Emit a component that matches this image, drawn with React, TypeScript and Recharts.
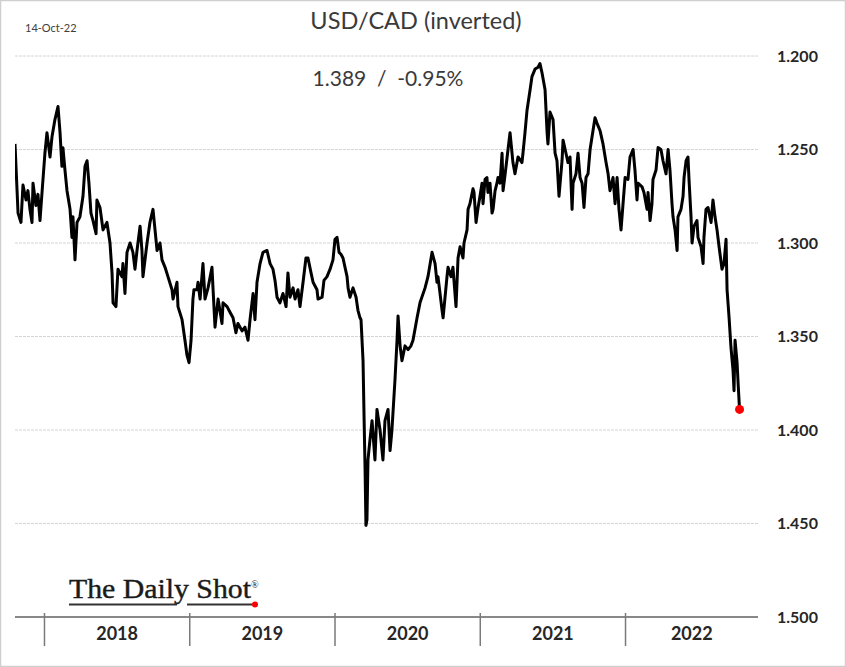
import React from 'react';
import { LineChart, Line, XAxis, YAxis, CartesianGrid, ReferenceDot } from 'recharts';

// Time as decimal years, USD/CAD rate
const dates = [
  2017.797, 2017.818, 2017.838, 2017.852, 2017.873, 2017.886, 2017.900, 2017.914, 2017.921, 2017.941, 2017.955, 2017.969, 2017.983,
  2018.003, 2018.017, 2018.038, 2018.052, 2018.072, 2018.093, 2018.107, 2018.120, 2018.127, 2018.141, 2018.155, 2018.176, 2018.189, 2018.196, 2018.210, 2018.224, 2018.244, 2018.265, 2018.279, 2018.293, 2018.306, 2018.320, 2018.334, 2018.355, 2018.361, 2018.382, 2018.403, 2018.430, 2018.451, 2018.465, 2018.472, 2018.492, 2018.506, 2018.534, 2018.540, 2018.554, 2018.568, 2018.589, 2018.609, 2018.623, 2018.637, 2018.658, 2018.671, 2018.678, 2018.706, 2018.726, 2018.747, 2018.761, 2018.775, 2018.795, 2018.809, 2018.830, 2018.850, 2018.878, 2018.885, 2018.912, 2018.919, 2018.947, 2018.967, 2018.981, 2018.995,
  2019.009, 2019.022, 2019.029, 2019.050, 2019.057, 2019.071, 2019.091, 2019.105, 2019.126, 2019.153, 2019.160, 2019.174, 2019.195, 2019.222, 2019.229, 2019.257, 2019.277, 2019.298, 2019.318, 2019.332, 2019.360, 2019.380, 2019.401, 2019.415, 2019.436, 2019.449, 2019.463, 2019.484, 2019.504, 2019.532, 2019.553, 2019.573, 2019.587, 2019.601, 2019.621, 2019.642, 2019.663, 2019.676, 2019.690, 2019.711, 2019.725, 2019.745, 2019.759, 2019.780, 2019.800, 2019.814, 2019.835, 2019.849, 2019.876, 2019.883, 2019.911, 2019.924, 2019.945, 2019.966, 2019.986,
  2020.000, 2020.014, 2020.028, 2020.041, 2020.055, 2020.069, 2020.083, 2020.090, 2020.103, 2020.124, 2020.145, 2020.158, 2020.172, 2020.179, 2020.193, 2020.200, 2020.207, 2020.213, 2020.220, 2020.227, 2020.241, 2020.255, 2020.275, 2020.289, 2020.310, 2020.330, 2020.344, 2020.365, 2020.379, 2020.392, 2020.413, 2020.427, 2020.434, 2020.448, 2020.461, 2020.482, 2020.503, 2020.523, 2020.537, 2020.565, 2020.585, 2020.620, 2020.640, 2020.668, 2020.689, 2020.702, 2020.709, 2020.737, 2020.744, 2020.771, 2020.778, 2020.799, 2020.812, 2020.833, 2020.847, 2020.861, 2020.881, 2020.888, 2020.909, 2020.916, 2020.929, 2020.950, 2020.957, 2020.971, 2020.985, 2020.998,
  2021.012, 2021.019, 2021.033, 2021.046, 2021.053, 2021.067, 2021.081, 2021.088, 2021.102, 2021.115, 2021.122, 2021.136, 2021.150, 2021.157, 2021.170, 2021.191, 2021.205, 2021.225, 2021.239, 2021.260, 2021.287, 2021.294, 2021.308, 2021.322, 2021.343, 2021.356, 2021.377, 2021.398, 2021.411, 2021.425, 2021.446, 2021.460, 2021.466, 2021.480, 2021.501, 2021.515, 2021.528, 2021.542, 2021.563, 2021.570, 2021.590, 2021.604, 2021.618, 2021.632, 2021.639, 2021.659, 2021.673, 2021.687, 2021.701, 2021.714, 2021.728, 2021.742, 2021.756, 2021.776, 2021.790, 2021.804, 2021.825, 2021.845, 2021.866, 2021.880, 2021.893, 2021.914, 2021.928, 2021.942, 2021.955, 2021.969, 2021.983, 2021.997,
  2022.017, 2022.031, 2022.052, 2022.065, 2022.079, 2022.086, 2022.114, 2022.127, 2022.148, 2022.155, 2022.169, 2022.182, 2022.189, 2022.210, 2022.224, 2022.244, 2022.258, 2022.279, 2022.293, 2022.306, 2022.320, 2022.327, 2022.341, 2022.355, 2022.361, 2022.382, 2022.396, 2022.403, 2022.417, 2022.430, 2022.437, 2022.451, 2022.458, 2022.472, 2022.492, 2022.499, 2022.520, 2022.534, 2022.540, 2022.554, 2022.568, 2022.589, 2022.602, 2022.616, 2022.630, 2022.644, 2022.664, 2022.678, 2022.692, 2022.699, 2022.713, 2022.726, 2022.740, 2022.747, 2022.754, 2022.768, 2022.775, 2022.785,
];

const rates = [
  1.247, 1.284, 1.289, 1.269, 1.277, 1.272, 1.282, 1.289, 1.268, 1.280, 1.274, 1.288, 1.273,
  1.252, 1.241, 1.254, 1.243, 1.234, 1.227, 1.241, 1.259, 1.249, 1.261, 1.272, 1.282, 1.297, 1.286, 1.309, 1.289, 1.286, 1.275, 1.259, 1.256, 1.268, 1.284, 1.288, 1.295, 1.277, 1.281, 1.293, 1.289, 1.300, 1.316, 1.332, 1.334, 1.314, 1.318, 1.311, 1.327, 1.305, 1.300, 1.305, 1.314, 1.304, 1.291, 1.304, 1.318, 1.300, 1.289, 1.282, 1.293, 1.304, 1.300, 1.309, 1.313, 1.318, 1.325, 1.330, 1.321, 1.334, 1.341, 1.352, 1.360, 1.364,
  1.352, 1.330, 1.325, 1.325, 1.321, 1.330, 1.311, 1.330, 1.324, 1.313, 1.324, 1.345, 1.330, 1.343, 1.332, 1.334, 1.337, 1.340, 1.348, 1.343, 1.347, 1.345, 1.352, 1.341, 1.327, 1.341, 1.321, 1.311, 1.305, 1.304, 1.311, 1.314, 1.320, 1.329, 1.332, 1.327, 1.334, 1.316, 1.329, 1.324, 1.330, 1.325, 1.334, 1.321, 1.308, 1.308, 1.316, 1.321, 1.325, 1.330, 1.329, 1.320, 1.318, 1.314, 1.309,
  1.298, 1.297, 1.305, 1.306, 1.308, 1.313, 1.318, 1.324, 1.329, 1.324, 1.329, 1.336, 1.340, 1.341, 1.363, 1.393, 1.421, 1.451, 1.448, 1.416, 1.405, 1.395, 1.416, 1.389, 1.400, 1.416, 1.395, 1.389, 1.411, 1.400, 1.373, 1.352, 1.339, 1.355, 1.363, 1.355, 1.357, 1.355, 1.352, 1.340, 1.332, 1.324, 1.318, 1.305, 1.311, 1.321, 1.318, 1.336, 1.340, 1.318, 1.313, 1.318, 1.313, 1.334, 1.308, 1.302, 1.308, 1.300, 1.293, 1.282, 1.279, 1.271, 1.273, 1.289, 1.281, 1.275,
  1.268, 1.279, 1.266, 1.265, 1.273, 1.268, 1.284, 1.282, 1.272, 1.268, 1.265, 1.268, 1.252, 1.272, 1.264, 1.250, 1.241, 1.257, 1.263, 1.254, 1.257, 1.252, 1.241, 1.229, 1.218, 1.211, 1.207, 1.206, 1.204, 1.209, 1.218, 1.241, 1.247, 1.230, 1.234, 1.252, 1.256, 1.275, 1.256, 1.245, 1.252, 1.257, 1.254, 1.282, 1.268, 1.263, 1.252, 1.265, 1.268, 1.281, 1.265, 1.263, 1.250, 1.240, 1.233, 1.236, 1.240, 1.247, 1.257, 1.263, 1.272, 1.265, 1.279, 1.265, 1.282, 1.293, 1.279, 1.265,
  1.266, 1.254, 1.250, 1.261, 1.277, 1.268, 1.270, 1.273, 1.282, 1.273, 1.288, 1.279, 1.266, 1.261, 1.249, 1.250, 1.256, 1.263, 1.250, 1.261, 1.279, 1.286, 1.293, 1.304, 1.286, 1.282, 1.275, 1.265, 1.256, 1.254, 1.266, 1.286, 1.300, 1.291, 1.288, 1.297, 1.302, 1.311, 1.297, 1.282, 1.281, 1.289, 1.277, 1.286, 1.293, 1.302, 1.314, 1.311, 1.298, 1.325, 1.340, 1.356, 1.368, 1.379, 1.352, 1.364, 1.375, 1.389,
];

const yTicks = [1.2, 1.25, 1.3, 1.35, 1.4, 1.45, 1.5];
const yearBoundaries = [2018, 2019, 2020, 2021, 2022];
const xStart = 2017.797;
const xEnd = 2022.912;

const titleText = 'USD/CAD (inverted)';
const lastText = '1.389  /  -0.95%';
const asOfText = '14-Oct-22';
const logoText = 'The Daily Shot';

const n = Math.min(dates.length, rates.length);
const data = dates.slice(0, n).map((t, i) => ({ t, v: rates[i] }));
const last = data[data.length - 1];

const yearCenters = yearBoundaries.map((y) => (y + Math.min(y + 1, xEnd)) / 2);
const xTicks = [...yearBoundaries, ...yearCenters].sort((a, b) => a - b);

const sans = 'Lato, "Open Sans", "DejaVu Sans", sans-serif';

function XTick(props: any) {
  const { x, y, payload } = props;
  const v = payload.value;
  if (yearBoundaries.includes(v)) {
    return <line x1={x} x2={x} y1={y - 4} y2={y + 29} stroke="#7a7a7a" strokeWidth={1.5} />;
  }
  return (
    <text x={x} y={y + 23} textAnchor="middle" fontFamily={sans} fontWeight={700} fontSize={18} fill="#262626">
      {Math.floor(v)}
    </text>
  );
}

export default function App() {
  return (
    <div style={{ position: 'absolute', left: 0, top: 0, width: 846, height: 667, background: '#fff' }}>
      <LineChart width={846} height={667} data={data} margin={{ top: 56, right: 18, bottom: 10, left: 15 }}>
        <CartesianGrid vertical={false} stroke="#d4d4d4" strokeDasharray="3 1" />
        <XAxis
          dataKey="t"
          type="number"
          domain={[xStart, xEnd]}
          ticks={xTicks}
          interval={0}
          tick={<XTick />}
          tickLine={false}
          tickSize={0}
          tickMargin={0}
          axisLine={{ stroke: '#666', strokeWidth: 1.5 }}
          height={40}
          allowDataOverflow
        />
        <YAxis
          orientation="right"
          reversed
          domain={[1.2, 1.5]}
          ticks={yTicks}
          interval={0}
          tickFormatter={(v: number) => v.toFixed(3)}
          tick={{ fontFamily: sans, fontSize: 16, fontWeight: 700, fill: '#262626', textAnchor: 'start' }}
          axisLine={false}
          tickLine={false}
          tickSize={0}
          tickMargin={19}
          width={70}
          allowDataOverflow
        />
        <Line
          type="linear"
          dataKey="v"
          stroke="#000"
          strokeWidth={3}
          strokeLinejoin="round"
          dot={false}
          activeDot={false}
          isAnimationActive={false}
        />
        <ReferenceDot x={last.t} y={last.v} r={4.5} fill="#ff0000" stroke="none" />
      </LineChart>
      <svg width={846} height={667} style={{ position: 'absolute', left: 0, top: 0, pointerEvents: 'none' }}>
        <rect x={0.5} y={0.5} width={845} height={666} fill="none" stroke="#cfcfcf" strokeWidth={1.5} />
        <text x={25} y={32} fontFamily={sans} fontSize={11} fill="#404040">{asOfText}</text>
        <text x={416} y={29} textAnchor="middle" fontFamily={sans} fontSize={23.5} fill="#3a3a3a">{titleText}</text>
        <text x={388} y={86} textAnchor="middle" fontFamily={sans} fontSize={21} fill="#3a3a3a" style={{ whiteSpace: 'pre' }}>{lastText}</text>
        <text x={69} y={598} fontFamily='"Liberation Serif", "DejaVu Serif", serif' fontSize={27} fill="#1a1a1a" stroke="#1a1a1a" strokeWidth={0.4} textLength={182} lengthAdjust="spacingAndGlyphs">{logoText}</text>
        <text x={251} y={588} fontFamily='"Liberation Serif", serif' fontSize={10} fill="#222">®</text>
        <line x1={69} x2={177} y1={604.5} y2={604.5} stroke="#333" strokeWidth={2} />
        <line x1={187} x2={253} y1={604.5} y2={604.5} stroke="#333" strokeWidth={2} />
        <circle cx={255} cy={604.5} r={3} fill="#ff0000" />
      </svg>
    </div>
  );
}
